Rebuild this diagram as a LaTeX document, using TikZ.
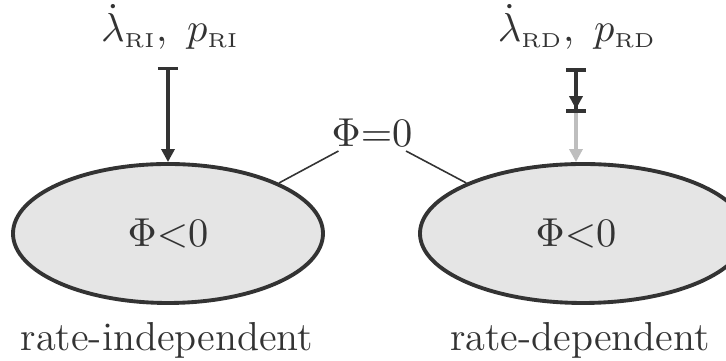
\RequirePackage{fix-cm}
\documentclass[tikz,border=0pt]{standalone}
\usepackage{amsmath}
\usepackage{tikz}
\usetikzlibrary{
  arrows.meta,
  positioning,
  shapes.geometric
}
\definecolor{inkgray}{RGB}{51,51,51}
\definecolor{fillgray}{RGB}{229,229,229}
\definecolor{palegray}{RGB}{190,190,190}
\newcommand{\subtxt}[1]{{\scriptscriptstyle\mathrm{#1}}}

\begin{document}
\begin{tikzpicture}[
            every node/.style={text=inkgray, font=\fontsize{11.5}{14}\selectfont},
            region/.style={ellipse, draw=inkgray, fill=fillgray, line width=1.1pt, inner sep=0pt, minimum height=1.39cm},
            feed/.style={draw=inkgray, line width=1.1pt, {Bar[width=0.2cm]}-{Triangle[width=0.13cm,length=0.13cm]}},
            feedcut/.style={draw=inkgray, line width=1.1pt, {Bar[width=0.2cm]}-{Triangle[width=0.13cm,length=0.13cm]Bar[width=0.2cm]}},
            feedpale/.style={draw=palegray, line width=1.1pt, -{Triangle[width=0.13cm,length=0.13cm]}},
            tie/.style={draw=inkgray, line width=0.45pt}]
            \useasboundingbox (0,0) rectangle (7.26,3.61);
            \node [region, minimum width=3.10cm] (ri) at (1.68,1.275) {$\Phi{<}0$};
            \node [region, minimum width=3.26cm] (rd) at (5.83,1.275) {};
            \node [xshift=-0.07cm] (rdtxt) at (rd.center) {$\Phi{<}0$};
            \node (rilbl) at (1.67,0.21) {rate-independent};
            \node (rdlbl) at (5.80,0.21) {rate-dependent};
            \node [inner sep=1pt] (phi) at (3.72,2.28) {$\Phi{=}0$};
            \node (riin) at (1.70,3.34) {$\dot{\lambda}_{\subtxt{RI}},\ p_{\subtxt{RI}}$};
            \node (rdin) at (5.77,3.34) {$\dot{\lambda}_{\subtxt{RD}},\ p_{\subtxt{RD}}$};

            \coordinate [above=0.955cm of ri.north] (ritop);
            \coordinate (rdtop) at (5.76,2.93);
            \coordinate (rdmid) at (5.76,2.48);
            \coordinate (rdend) at (rdmid |- rd.north);

            \path [feed] (ritop) -- (ri.north);
            \path [feedpale] (rdmid) -- (rdend);
            \path [feedcut] (rdtop) -- (rdmid);
            \path [tie] (phi) -- (ri.north east);
            \path [tie] (phi) -- (rd.north west);
        \end{tikzpicture}
\end{document}
